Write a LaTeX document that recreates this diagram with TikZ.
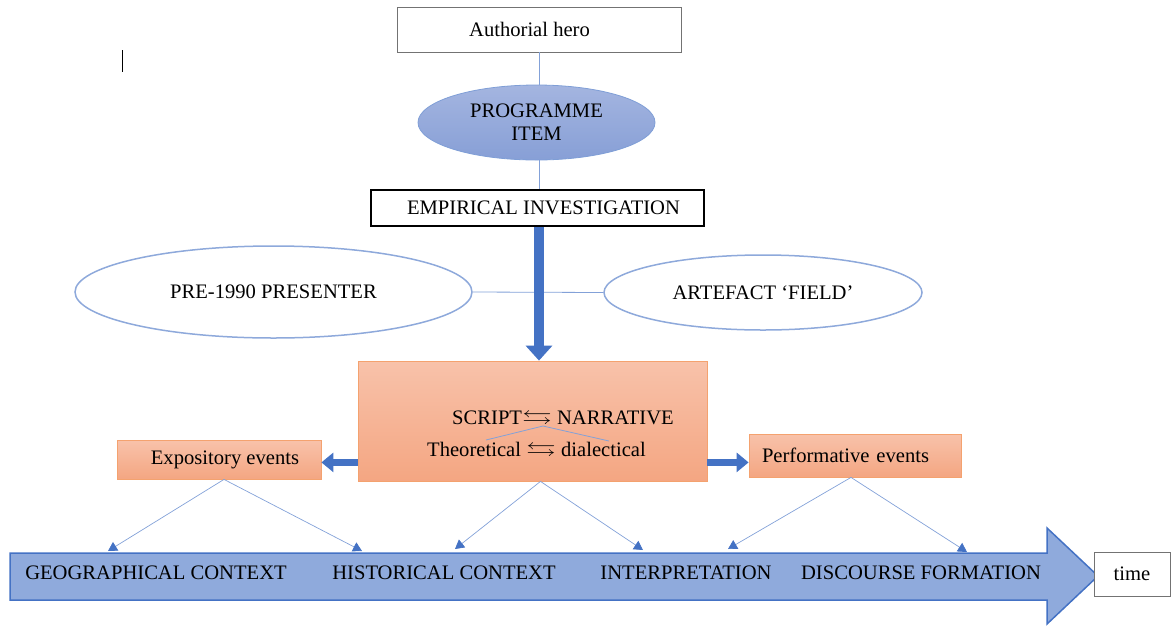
\documentclass[tikz,border=0pt]{standalone}
\usepackage{amssymb}
\usepackage{graphicx}
\usepackage{fontspec}
\setmainfont{Liberation Serif}
\usetikzlibrary{shapes.geometric,arrows.meta}
\definecolor{blueline}{HTML}{8EA9DB}
\definecolor{bluedark}{HTML}{4472C4}
\definecolor{bluefill}{HTML}{8FAADC}
\definecolor{elltop}{HTML}{A4B5E0}
\definecolor{ellbot}{HTML}{879FD6}
\definecolor{orbord}{HTML}{F4A26F}
\definecolor{ortop}{HTML}{F8C2AA}
\definecolor{orbot}{HTML}{F4A682}
\newcommand{\swap}{\scalebox{1.45}[1]{$\leftrightarrows$}}
\begin{document}
\begin{tikzpicture}[x=1pt,y=-1pt,
  font=\fontsize{20.6}{23}\selectfont,
  graybox/.style={draw=black!55, line width=0.6pt, fill=white, inner sep=0pt},
  orbox/.style={draw=orbord, line width=0.8pt, top color=ortop, bottom color=orbot, inner sep=0pt},
  oval/.style={ellipse, draw=blueline, line width=1.5pt, fill=white, inner sep=0pt},
  thinblue/.style={draw=blueline!85!bluedark, line width=0.8pt},
  tipline/.style={draw=blueline!85!bluedark, line width=0.7pt, -{Triangle[length=9pt,width=10pt,color=bluedark]}},
  bigdown/.style={draw=bluedark, line width=10pt, -{Triangle[length=15pt,width=26pt]}},
  sidearr/.style={draw=bluedark, line width=7pt, -{Triangle[length=12pt,width=19pt]}},
  lab/.style={inner sep=0pt}
]
\useasboundingbox (0,0) rectangle (1176,625);

% stray cursor mark
\draw[black, line width=0.8pt] (122,50) -- (122,72);

% top nodes
\node[graybox, minimum width=284pt, minimum height=45pt] (hero) at (539,29.5) {\hspace{-19pt}Authorial hero};
\node[ellipse, draw=blueline!80!bluedark, line width=0.8pt, top color=elltop, bottom color=ellbot,
      minimum width=237pt, minimum height=75pt, inner sep=0pt, align=center] (prog) at (536.5,122.5)
      {\raisebox{2pt}{PROGRAMME}\\[-2pt]ITEM};
\node[draw=black, line width=2pt, fill=white, minimum width=333pt, minimum height=36pt, inner sep=0pt] (emp) at (537.5,208)
      {\hspace{12pt}EMPIRICAL INVESTIGATION};

\draw[thinblue] (hero.south) -- (hero.south |- prog.north);
\draw[thinblue] (hero.south |- prog.south) -- (hero.south |- emp.north);

% ovals
\node[oval, minimum width=397pt, minimum height=92pt] (pre) at (273.5,292) {PRE-1990 PRESENTER};
\node[oval, minimum width=318pt, minimum height=75pt] (art) at (763,292.5) {ARTEFACT `FIELD'};
\draw[thinblue] (pre.east) -- (art.west);

% central box
\node[orbox, minimum width=349pt, minimum height=120pt] (core) at (532.5,421) {};
\node[lab] (script) at (563,419.5) {SCRIPT\swap\ NARRATIVE};
\node[lab] (theo) at (536.5,451.5) {Theoretical \swap\ dialectical};
\coordinate (apex) at (543,426);
\coordinate (vl) at (486,440);
\coordinate (vr) at (609,441);
\draw[thinblue] (vl) -- (apex) -- (vr);

\draw[bigdown] (hero.south |- emp.south) -- (hero.south |- core.north);

% side boxes
\node[orbox, minimum width=204pt, minimum height=39pt] (expo) at (219,459.5) {\hspace{12pt}Expository events};
\node[orbox, minimum width=212pt, minimum height=43pt, text width=186pt, align=left] (perf) at (855,455.5) {Performative events};

\draw[sidearr] ([yshift=19pt]core.south west) -- ([yshift=17pt]expo.south east);
\draw[sidearr] ([yshift=19pt]core.south east) -- ([yshift=15pt]perf.south west);

% big time arrow
\draw[fill=bluefill, draw=bluedark, line width=1.5pt]
  (10,553) -- (1047,553) -- (1047,528) -- (1098,576) -- (1047,624) -- (1047,600) -- (10,600) -- cycle;

\node[lab] (geo) at (156,573) {GEOGRAPHICAL CONTEXT};
\node[lab] (hist) at (444,573) {HISTORICAL CONTEXT};
\node[lab] (interp) at (686,573) {INTERPRETATION};
\node[lab] (disc) at (921,573) {DISCOURSE FORMATION};
\node[graybox, minimum width=76pt, minimum height=44pt] (time) at (1132,574) {time};

% connector targets on the arrow's top edge
\coordinate (t1) at (108,551);
\coordinate (t2) at (362,551);
\coordinate (t3) at (455,549);
\coordinate (t4) at (643,550);
\coordinate (t5) at (728,549);
\coordinate (t6) at (967,552);

\draw[tipline] ([xshift=5pt]expo.south) -- (t1);
\draw[tipline] ([xshift=5pt]expo.south) -- (t2);
\draw[tipline] ([xshift=8pt]core.south) -- (t3);
\draw[tipline] ([xshift=8pt]core.south) -- (t4);
\draw[tipline] ([xshift=-4pt]perf.south) -- (t5);
\draw[tipline] ([xshift=-4pt]perf.south) -- (t6);
\end{tikzpicture}
\end{document}
